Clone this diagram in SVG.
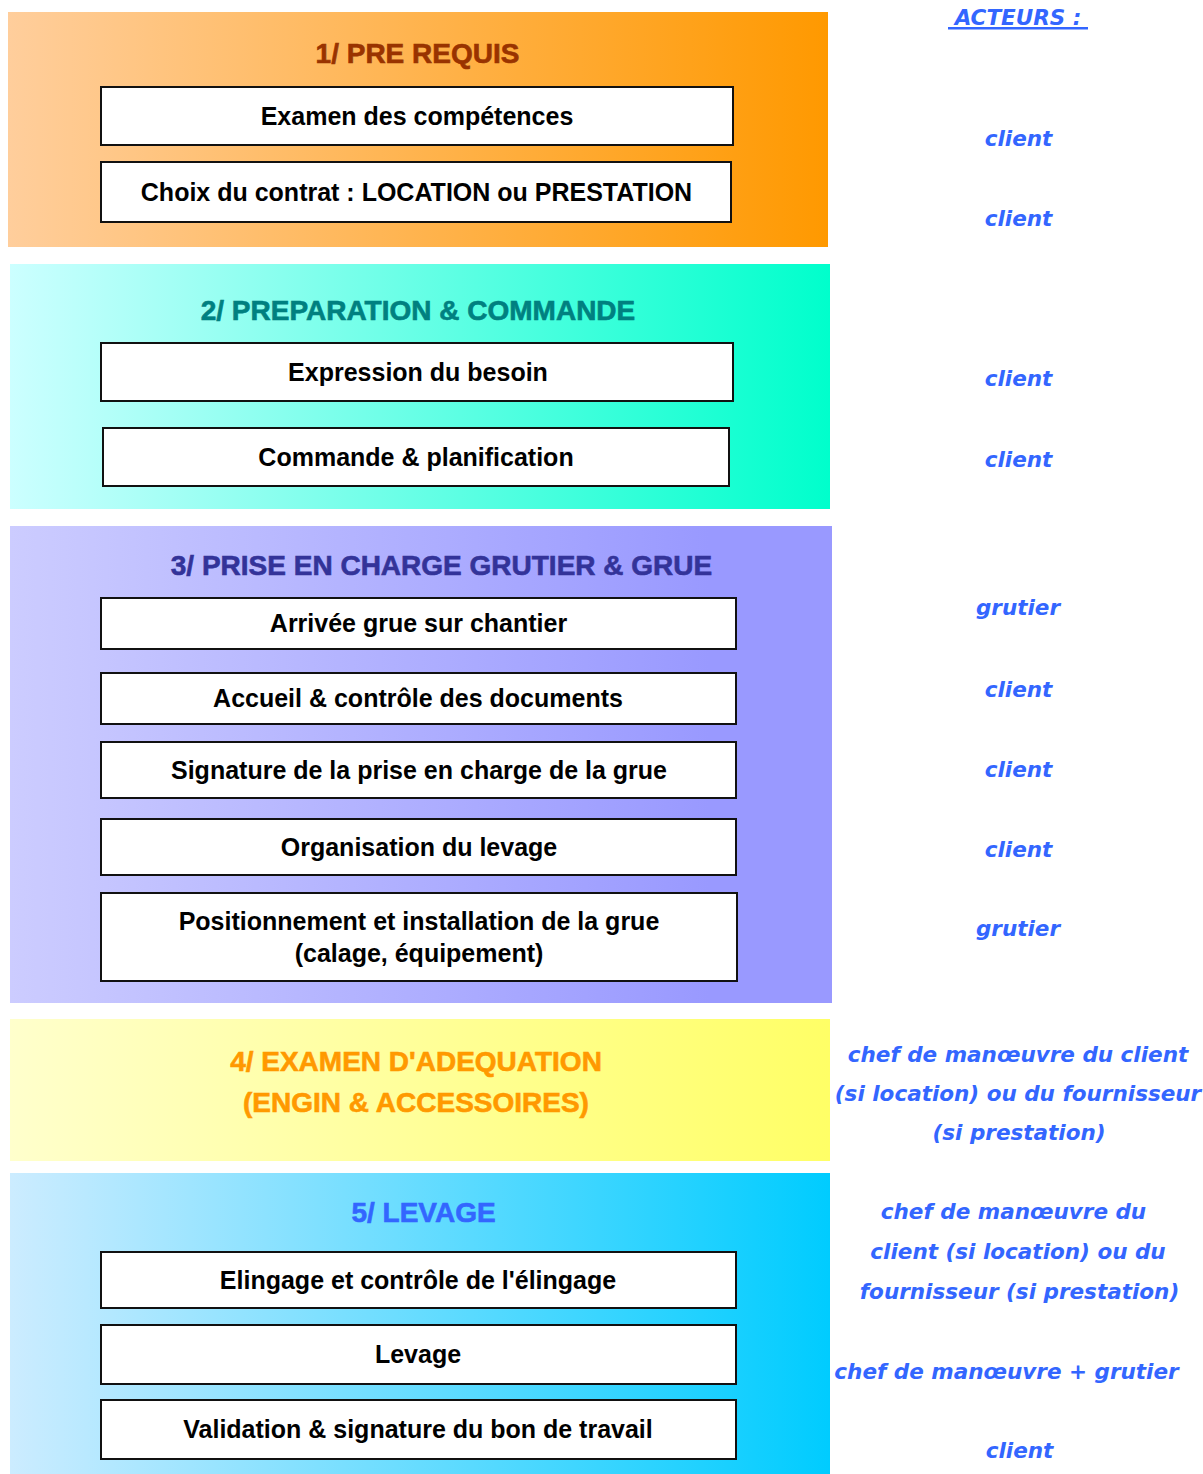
<svg xmlns="http://www.w3.org/2000/svg" width="1203" height="1474" viewBox="0 0 1203 1474">
<defs>
<linearGradient id="g1" x1="0" y1="0" x2="1" y2="0"><stop offset="0" stop-color="#FFCE9C"/><stop offset="1" stop-color="#FF9900"/></linearGradient>
<linearGradient id="g2" x1="0" y1="0" x2="1" y2="0"><stop offset="0" stop-color="#CCFFFF"/><stop offset="1" stop-color="#00FFCC"/></linearGradient>
<linearGradient id="g3" x1="0" y1="0" x2="1" y2="0"><stop offset="0" stop-color="#CCCCFF"/><stop offset="0.85" stop-color="#9999FF"/><stop offset="1" stop-color="#9999FF"/></linearGradient>
<linearGradient id="g4" x1="0" y1="0" x2="1" y2="0"><stop offset="0" stop-color="#FFFFCC"/><stop offset="1" stop-color="#FFFF66"/></linearGradient>
<linearGradient id="g5" x1="0" y1="0" x2="1" y2="0"><stop offset="0" stop-color="#CCECFF"/><stop offset="1" stop-color="#00CCFF"/></linearGradient>
</defs>
<style>
.box{fill:#FFFFFF;stroke:#111111;stroke-width:2}
.bt{font-family:"Liberation Sans",Arial,sans-serif;font-weight:bold;font-size:25px;fill:#000000;text-anchor:middle}
.tt{font-family:"Liberation Sans",Arial,sans-serif;font-weight:bold;font-size:28px;text-anchor:middle;stroke-width:0.6}
.ac{font-family:"Comic Sans MS","DejaVu Sans",sans-serif;font-weight:bold;font-style:italic;font-size:21.5px;fill:#3366FF;text-anchor:middle}
</style>

<g id="panel1">
<rect x="8" y="12" width="820" height="235" fill="url(#g1)"/>
<text class="tt" x="417.5" y="63" fill="#993300" stroke="#993300">1/ PRE REQUIS</text>
</g>
<g id="n-examen"><rect class="box" x="101" y="87" width="632" height="58"/><text class="bt" x="417" y="124.5">Examen des compétences</text></g>
<g id="n-choix"><rect class="box" x="101" y="162" width="630" height="60"/><text class="bt" x="416.5" y="200.5">Choix du contrat : LOCATION ou PRESTATION</text></g>

<g id="panel2">
<rect x="10" y="264" width="820" height="245" fill="url(#g2)"/>
<text class="tt" x="418" y="320" fill="#008080" stroke="#008080">2/ PREPARATION &amp; COMMANDE</text>
</g>
<g id="n-expression"><rect class="box" x="101" y="343" width="632" height="58"/><text class="bt" x="418" y="380.5">Expression du besoin</text></g>
<g id="n-commande"><rect class="box" x="103" y="428" width="626" height="58"/><text class="bt" x="416" y="465.5">Commande &amp; planification</text></g>

<g id="panel3">
<rect x="10" y="526" width="822" height="477" fill="url(#g3)"/>
<text class="tt" x="441.5" y="575" fill="#333399" stroke="#333399">3/ PRISE EN CHARGE GRUTIER &amp; GRUE</text>
</g>
<g id="n-arrivee"><rect class="box" x="101" y="598" width="635" height="51"/><text class="bt" x="418.5" y="632">Arrivée grue sur chantier</text></g>
<g id="n-accueil"><rect class="box" x="101" y="673" width="635" height="51"/><text class="bt" x="418" y="707">Accueil &amp; contrôle des documents</text></g>
<g id="n-signature"><rect class="box" x="101" y="742" width="635" height="56"/><text class="bt" x="419" y="778.5">Signature de la prise en charge de la grue</text></g>
<g id="n-organisation"><rect class="box" x="101" y="819" width="635" height="56"/><text class="bt" x="419" y="855.5">Organisation du levage</text></g>
<g id="n-positionnement"><rect class="box" x="101" y="893" width="636" height="88"/><text class="bt" x="419" y="929.5">Positionnement et installation de la grue</text><text class="bt" x="419" y="961.5">(calage, équipement)</text></g>

<g id="panel4">
<rect x="10" y="1019" width="820" height="142" fill="url(#g4)"/>
<text class="tt" x="416" y="1071" fill="#FF9900" stroke="#FF9900">4/ EXAMEN D'ADEQUATION</text>
<text class="tt" x="416" y="1112" fill="#FF9900" stroke="#FF9900">(ENGIN &amp; ACCESSOIRES)</text>
</g>

<g id="panel5">
<rect x="10" y="1173" width="820" height="301" fill="url(#g5)"/>
<text class="tt" x="423.5" y="1222" fill="#3366FF" stroke="#3366FF">5/ LEVAGE</text>
</g>
<g id="n-elingage"><rect class="box" x="101" y="1252" width="635" height="56"/><text class="bt" x="418" y="1288.5">Elingage et contrôle de l'élingage</text></g>
<g id="n-levage"><rect class="box" x="101" y="1325" width="635" height="59"/><text class="bt" x="418" y="1363">Levage</text></g>
<g id="n-validation"><rect class="box" x="101" y="1400" width="635" height="59"/><text class="bt" x="418" y="1438">Validation &amp; signature du bon de travail</text></g>

<g id="actors">
<text class="ac" x="1018" y="25" font-size="24">ACTEURS :</text>
<rect x="948" y="27" width="140" height="2.5" fill="#3366FF"/>
<text class="ac" x="1018.5" y="146">client</text>
<text class="ac" x="1018.5" y="226">client</text>
<text class="ac" x="1018.5" y="386">client</text>
<text class="ac" x="1018.5" y="467">client</text>
<text class="ac" x="1018" y="615">grutier</text>
<text class="ac" x="1018.5" y="697">client</text>
<text class="ac" x="1018.5" y="777">client</text>
<text class="ac" x="1018.5" y="857">client</text>
<text class="ac" x="1018" y="936">grutier</text>
<text class="ac" x="1018" y="1062">chef de manœuvre du client</text>
<text class="ac" x="1018" y="1101">(si location) ou du fournisseur</text>
<text class="ac" x="1019" y="1140">(si prestation)</text>
<text class="ac" x="1013.5" y="1219">chef de manœuvre du</text>
<text class="ac" x="1018" y="1259">client (si location) ou du</text>
<text class="ac" x="1019.5" y="1299">fournisseur (si prestation)</text>
<text class="ac" x="1006.5" y="1379">chef de manœuvre + grutier</text>
<text class="ac" x="1019.5" y="1458">client</text>
</g>
</svg>
